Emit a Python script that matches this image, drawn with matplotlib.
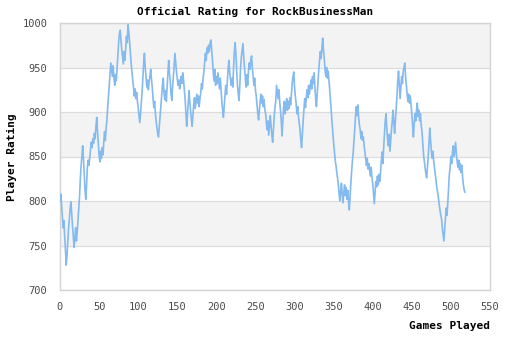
import numpy as np
import matplotlib
matplotlib.use("Agg")
import matplotlib.pyplot as plt

# rating after each game, game 0 .. 518
ratings = [
    800, 808, 795, 782, 770, 778, 760, 745, 728, 740,
    755, 770, 780, 792, 799, 785, 772, 760, 748, 758,
    770, 755, 765, 778, 790, 805, 825, 840, 850, 862,
    848, 830, 812, 802, 818, 838, 846, 840, 848, 858,
    866, 860, 870, 865, 876, 870, 884, 894, 878, 865,
    852, 844, 856, 848, 860, 852, 866, 878, 868, 882,
    891, 905, 918, 930, 942, 955, 948, 940, 952, 938,
    930, 942, 935, 950, 966, 978, 988, 992, 980, 970,
    962, 954, 968, 958, 972, 985, 978, 998, 990, 978,
    966, 955, 945, 936, 928, 918, 926, 915, 922, 912,
    905, 896, 888, 898, 910, 922, 938, 955, 966, 950,
    940, 928, 936, 925, 934, 940, 948, 937, 928, 915,
    905, 912, 898, 890, 882, 876, 872, 884, 895, 906,
    918, 930, 938, 922, 914, 924, 912, 928, 945, 958,
    944, 935, 920, 913, 928, 940, 952, 966, 955, 945,
    938, 930, 936, 926, 934, 940, 932, 944, 936, 926,
    915, 900, 884, 896, 910, 924, 912, 902, 892, 884,
    896, 908, 916, 904, 912, 920, 910, 918, 906, 915,
    922, 932, 926, 938, 945, 955, 966, 958, 972, 966,
    975, 968, 978, 981, 970, 958, 945, 935, 948, 930,
    940, 932, 944, 935, 926, 938, 925, 912, 902, 894,
    906, 918, 930, 920, 935, 948, 958, 945, 938, 930,
    938, 928, 950, 968, 978, 965, 946, 930, 920, 913,
    930, 950, 962, 970, 977, 962, 950, 938, 928, 942,
    930, 945, 955, 948, 958, 963, 950, 940, 930, 938,
    925, 918, 908, 898, 891, 902, 912, 920, 910, 918,
    906, 914, 903, 898, 888, 880, 890, 874, 885, 896,
    884, 874, 866, 880, 895, 906, 912, 930, 922, 915,
    925, 912, 902, 890, 873, 890, 905, 912, 898, 908,
    915, 902, 912, 904, 916, 908, 920, 932, 940, 945,
    928, 918, 910, 898, 906, 895, 888, 880, 868, 860,
    875, 890, 902, 915, 905, 916, 925, 916, 930, 920,
    928, 936, 926, 940, 932, 944, 928, 915, 906, 920,
    935, 948, 958, 968, 960, 972, 983, 970, 960, 948,
    940, 950, 938, 946, 936, 925, 912, 900, 888, 875,
    865, 855, 846, 840, 832, 826, 818, 808, 800, 812,
    820, 806, 798, 810, 818, 806, 815, 802, 812, 800,
    790, 804, 820, 832, 845, 854, 868, 882, 895, 906,
    896, 908, 894, 885, 880, 870, 878, 868, 872, 862,
    855, 848, 840, 848, 836, 842, 835, 828, 838, 826,
    820, 808, 797, 810, 822, 816, 828, 818, 830, 822,
    832, 845, 855, 842, 860, 875, 890, 898, 882, 870,
    862, 875, 856, 868, 880, 890, 902, 888, 876, 890,
    905, 918, 935, 946, 930, 915, 928, 940, 932, 946,
    950, 955, 940, 930, 920, 912, 920, 910, 918, 908,
    898, 885, 872, 886, 898, 890, 902, 910, 895, 902,
    890, 898, 885, 878, 865, 852, 845, 838, 830, 826,
    838, 850, 866, 882, 868, 856, 848, 856, 845, 838,
    830, 822, 815, 810, 803, 796, 790, 784, 780, 770,
    762, 755, 768, 780, 792, 784, 798, 815, 830, 838,
    850, 842, 855, 862, 850, 858, 866, 852, 844, 838,
    846, 835, 842, 832, 840, 826, 818, 812, 810,
]
games = np.arange(len(ratings))

x_ticks = list(range(0, 551, 50))
y_ticks = list(range(700, 1001, 50))

mono = "DejaVu Sans Mono"

fig = plt.figure(figsize=(5.1, 3.4), dpi=100)
ax = fig.add_axes([60 / 510, 1 - 290 / 340, 430 / 510, 267 / 340])

# alternating grey bands
for lo in (750, 850, 950):
    ax.axhspan(lo, lo + 50, color="#f3f3f3", zorder=0, lw=0)
for y in y_ticks:
    ax.axhline(y, color="#dcdcdc", lw=0.9, zorder=1)

ax.plot(games, ratings, color="#84baf0", lw=1.2, zorder=3)

ax.set_xlim(0, 550)
ax.set_ylim(700, 1000)
ax.set_xticks(x_ticks)
ax.set_yticks(y_ticks)
ax.tick_params(length=0, pad=9, labelsize=7.5, colors="#4a4a4a")
for lab in ax.get_xticklabels() + ax.get_yticklabels():
    lab.set_family(mono)
for s in ax.spines.values():
    s.set_color("#d4d4d4")
    s.set_linewidth(1)

fig.text(0.5, 1 - 12 / 340, "Official Rating for RockBusinessMan",
         ha="center", va="center", family=mono, weight="bold", fontsize=8)
fig.text(12 / 510, 1 - 157 / 340, "Player Rating", rotation=90,
         ha="center", va="center", family=mono, weight="bold", fontsize=8)
fig.text(490 / 510, 1 - 326 / 340, "Games Played",
         ha="right", va="center", family=mono, weight="bold", fontsize=8)

fig.savefig("out.png", dpi=100)
